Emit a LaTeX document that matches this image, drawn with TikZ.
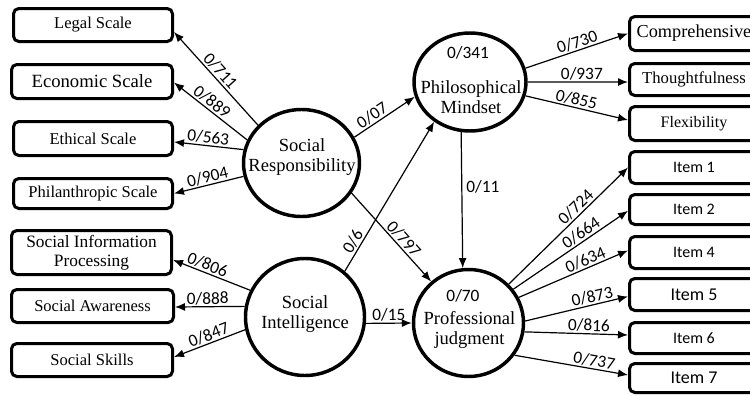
\documentclass[tikz,border=0pt]{standalone}
\usepackage{fontspec}
\setmainfont{Liberation Serif}
\newfontfamily\carl{Carlito}
\usetikzlibrary{shapes.geometric,arrows.meta}
\begin{document}
\begin{tikzpicture}[x=0.75pt,y=-0.75pt,
  boxnode/.style={draw, line width=2.25pt, rounded corners=4pt, inner sep=0pt, align=center},
  lbox/.style={boxnode, minimum width=159*0.75pt, font=\fontsize{12.4}{14}\selectfont},
  rbox/.style={boxnode, minimum width=129*0.75pt, font=\fontsize{12.5}{14}\selectfont},
  ibox/.style={boxnode, minimum width=129*0.75pt, font=\carl\fontsize{12}{14}\selectfont},
  latent/.style={draw, ellipse, line width=2.6pt, inner sep=0pt},
  ctext/.style={align=center, inner sep=0pt, font=\fontsize{13.9}{15}\selectfont},
  arr/.style={-{Latex[length=7.5pt,width=6pt]}, line width=0.9pt},
  lab/.style={font=\carl\fontsize{13}{15}\selectfont, inner sep=1pt, sloped, above},
  nlab/.style={font=\carl\fontsize{13}{15}\selectfont, inner sep=0pt}
]
\useasboundingbox (0,0) rectangle (750,396);
\clip (0,0) rectangle (750,396);

% left boxes
\node[lbox, minimum height=33*0.75pt] (legal) at (93,25) {Legal Scale};
\node[lbox, minimum width=161*0.75pt, minimum height=34*0.75pt, font=\fontsize{14}{16}\selectfont] (econ) at (92,81.5) {Economic Scale};
\node[lbox, minimum height=34*0.75pt] (ethic) at (93,138.5) {Ethical Scale};
\node[lbox, minimum height=30*0.75pt] (phil) at (93,193.5) {Philanthropic Scale};
\node[lbox, minimum width=160*0.75pt, minimum height=44*0.75pt, font=\fontsize{13}{14.3}\selectfont] (sip) at (91.5,252.5) {Social Information\\Processing};
\node[lbox, minimum width=162*0.75pt, minimum height=33*0.75pt] (sa) at (92.5,306) {Social Awareness};
\node[lbox, minimum width=161*0.75pt, minimum height=33*0.75pt] (ss) at (92,360) {Social Skills};

% right boxes
\node[rbox, minimum height=34*0.75pt, font=\fontsize{13.7}{15}\selectfont] (comp) at (694,33.5) {Comprehensive};
\node[rbox, minimum height=32*0.75pt] (thought) at (694,79.5) {Thoughtfulness};
\node[rbox, minimum height=34*0.75pt, font=\fontsize{12}{14}\selectfont] (flex) at (694,123.5) {Flexibility};
\node[ibox, minimum height=32*0.75pt] (i1) at (694,167.5) {Item 1};
\node[ibox, minimum height=30*0.75pt] (i2) at (694,209.5) {Item 2};
\node[ibox, minimum height=32*0.75pt] (i4) at (694,252.5) {Item 4};
\node[ibox, minimum height=32*0.75pt, font=\carl\fontsize{13.5}{15}\selectfont] (i5) at (694,294.5) {Item 5};
\node[ibox, minimum height=31*0.75pt] (i6) at (694,338) {Item 6};
\node[ibox, minimum height=29*0.75pt, font=\carl\fontsize{13.5}{15}\selectfont] (i7) at (694,378) {Item 7};

% latent variables
\node[latent, minimum width=116*0.75pt, minimum height=107*0.75pt] (SR) at (301.5,163) {};
\node[latent, minimum width=119*0.75pt, minimum height=117*0.75pt] (SI) at (305,317) {};
\node[latent, minimum width=112*0.75pt, minimum height=98*0.75pt] (PM) at (470,82) {};
\node[latent, minimum width=110*0.75pt, minimum height=107*0.75pt] (PJ) at (468.5,323) {};

\node[ctext] (srtext) at (302,157) {Social\\Responsibility};
\node[ctext] (sitext) at (305,314) {Social\\Intelligence};
\node[ctext] (pmtext) at (471,97) {Philosophical\\Mindset};
\node[ctext] (pjtext) at (469.5,330) {Professional\\judgment};
\node[nlab] (pmr) at (468,53) {0/341};
\node[nlab] (pjr) at (463,296) {0/70};

% SR indicators
\draw[arr] (SR.139) -- node[lab, pos=0.52] {0/711} ([yshift=-5.25pt]legal.east);
\draw[arr] (SR.157) -- node[lab, pos=0.55] {0/889} ([yshift=-0.75pt]econ.east);
\draw[arr] (SR.167.5) -- node[lab, pos=0.52] {0/563} ([yshift=-2.6pt]ethic.east);
\draw[arr] (SR.193.7) -- node[lab, pos=0.49] {0/904} (phil.east);

% SI indicators
\draw[arr] (SI.154) -- node[lab, pos=0.59] {0/806} ([yshift=-5.6pt]sip.east);
\draw[arr] (SI.170.5) -- node[lab, pos=0.53] {0/888} ([yshift=-0.75pt]sa.east);
\draw[arr] (SI.192.7) -- node[lab, pos=0.47] {0/847} ([yshift=2.25pt]ss.east);

% structural paths
\draw[arr] (SR.26.8) -- node[lab, pos=0.37] {0/07} (PM.195.7);
\draw[arr] (SR.329) -- node[lab, pos=0.58] {0/797} (PJ.132.4);
\draw[arr] (SI.49.6) -- node[lab, pos=0.17] {0/6} (PM.228.5);
\draw[arr] (SI.354.4) -- node[lab, pos=0.5] {0/15} (PJ.180);
\draw[arr] (PM.260.9) -- node[nlab, pos=0.4, right=3pt] {0/11} (PJ.96.7);

% PM indicators
\draw[arr] (PM.14.5) -- node[lab, pos=0.53] {0/730} (comp.west);
\draw[arr] (PM.0) -- node[lab, pos=0.54] {0/937} ([yshift=-1.9pt]thought.west);
\draw[arr] (PM.-14.5) -- node[lab, pos=0.48] {0/855} ([yshift=2.6pt]flex.west);

% PJ indicators
\draw[arr] (PJ.44.6) -- node[lab, pos=0.61] {0/724} (i1.west);
\draw[arr] (PJ.37.7) -- node[lab, pos=0.63] {0/664} ([yshift=-1pt]i2.west);
\draw[arr] (PJ.27.6) -- node[lab, pos=0.64] {0/634} ([yshift=1.5pt]i4.west);
\draw[arr] (PJ.2.8) -- node[lab, pos=0.67] {0/873} ([yshift=-1.5pt]i5.west);
\draw[arr] (PJ.351.7) -- node[lab, pos=0.62] {0/816} ([yshift=2.25pt]i6.west);
\draw[arr] (PJ.325.5) -- node[lab, pos=0.69] {0/737} ([yshift=2.25pt]i7.west);
\end{tikzpicture}
\end{document}
